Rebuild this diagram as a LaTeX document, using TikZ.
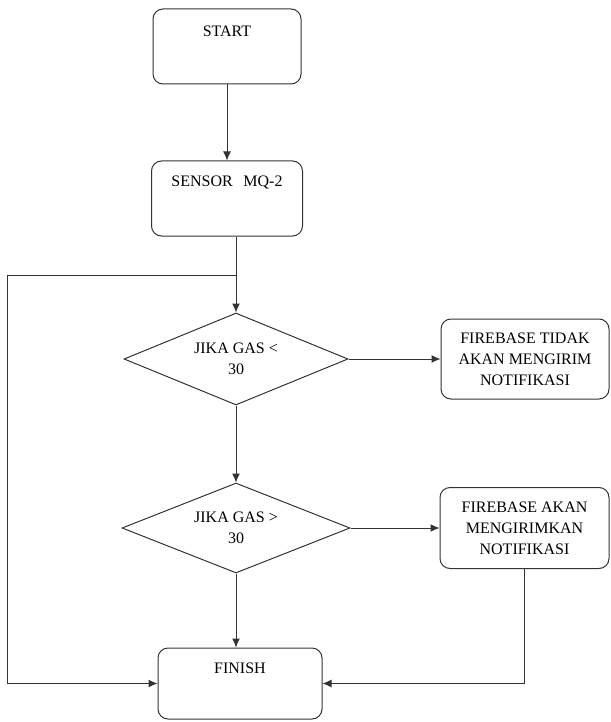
\documentclass[tikz,border=0pt]{standalone}
\usepackage{fontspec}
\setmainfont{Liberation Serif}
\newfontfamily\flowfont{Liberation Serif}
\usetikzlibrary{shapes.geometric,arrows.meta}
\begin{document}
\begin{tikzpicture}[x=1pt,y=-1pt,
  every node/.style={font=\flowfont\fontsize{16}{21}\selectfont, align=center, inner sep=0pt},
  topbox/.style={draw=black!80, line width=1pt, rounded corners=10pt, text height=25pt},
  msgbox/.style={draw=black!80, line width=1pt, rounded corners=10pt},
  cond/.style={draw=black!80, line width=1pt, diamond, aspect=2.4},
  flow/.style={draw=black!80, line width=1pt, -{Latex[length=9pt,width=8pt]}}]
  \useasboundingbox (0,0) rectangle (610,722);

  \node[topbox, text width=148pt, text height=28pt, text depth=47pt] (start) at (227,46.5) {START};
  \node[topbox, text width=151pt, text depth=50pt] (sensor) at (227,198.5) {SENSOR\ \ MQ-2};

  \node[cond, minimum width=224pt, minimum height=92pt] (d1) at (236,359) {JIKA GAS <\\30};
  \node[msgbox, minimum width=168pt, minimum height=80pt] (fb1) at (525,359) {FIREBASE TIDAK\\AKAN MENGIRIM\\NOTIFIKASI};

  \node[cond, minimum width=228pt, minimum height=90pt] (d2) at (236,528) {JIKA GAS >\\30};
  \node[msgbox, minimum width=169pt, minimum height=81pt] (fb2) at (524.5,528) {FIREBASE AKAN\\MENGIRIMKAN\\NOTIFIKASI};

  \node[topbox, text width=164pt, text depth=46pt] (finish) at (240,683.5) {FINISH};

  \coordinate (split) at (236,275);
  \coordinate (back) at (7,275);

  \draw[flow] (start) -- (sensor);
  \draw[flow] (sensor.south -| d1.north) -- (d1.north);
  \draw[flow] (split) -- (back) |- (finish.west);
  \draw[flow] (d1) -- (fb1);
  \draw[flow] (d1.south) -- (d2.north);
  \draw[flow] (d2) -- (fb2);
  \draw[flow] (d2.south) -- (d2.south |- finish.north);
  \draw[flow] (fb2.south) |- (finish.east);
\end{tikzpicture}
\end{document}
